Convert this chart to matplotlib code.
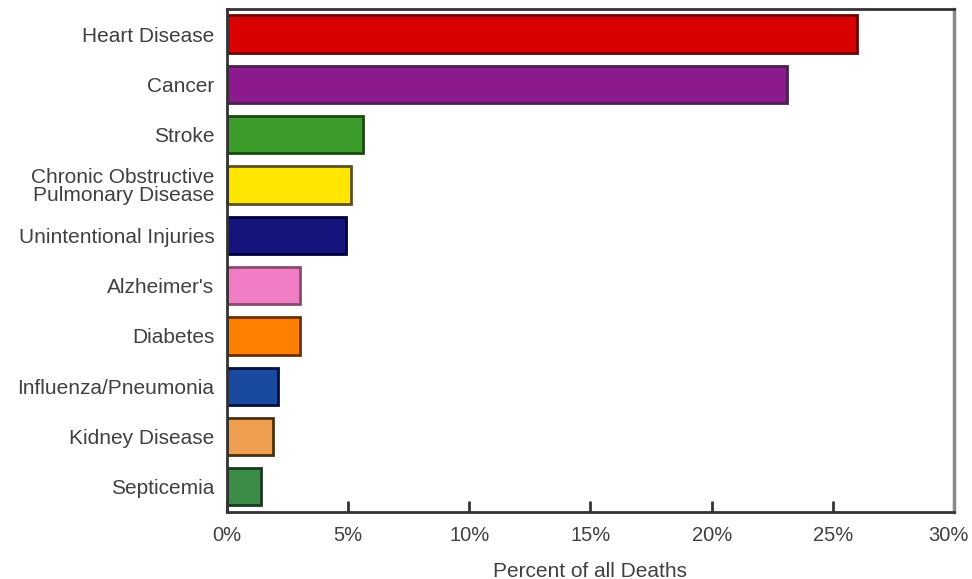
import matplotlib.pyplot as plt
import matplotlib.transforms as mtransforms

plt.rcParams['font.family'] = ['Liberation Sans', 'DejaVu Sans']

# causes of death, top to bottom
causes = ['Heart Disease', 'Cancer', 'Stroke',
          'Chronic Obstructive\nPulmonary Disease', 'Unintentional Injuries',
          "Alzheimer's", 'Diabetes', 'Influenza/Pneumonia', 'Kidney Disease',
          'Septicemia']
percent = [26.0, 23.1, 5.6, 5.1, 4.9, 3.0, 3.0, 2.1, 1.9, 1.4]
fills = ['#d80000', '#8c1a8e', '#3c9c2c', '#ffe600', '#14147c',
         '#f07cc4', '#ff8000', '#1a4aa0', '#eea050', '#3c8c48']
edges = ['#6e0000', '#4a2050', '#1a4a10', '#5a5020', '#000040',
         '#8a4a70', '#6a3000', '#001040', '#4a3010', '#1a3a20']
xticks = [0, 5, 10, 15, 20, 25, 30]

fig = plt.figure(figsize=(9.72, 5.79), dpi=100)
ax = fig.add_axes([0.2335, 0.1157, 0.748, 0.869])

ax.barh(range(len(causes)), percent, height=0.74, color=fills,
        edgecolor=edges, linewidth=2)

ax.set_ylim(len(causes) - 0.5, -0.5)
ax.set_xlim(0, 30)
ax.set_yticks(range(len(causes)))
ax.set_yticklabels(causes, fontsize=15, color='#404040', linespacing=0.95)
ax.set_xticks(xticks)
ax.set_xticklabels([f'{t}%' for t in xticks], fontsize=14.5, color='#404040')
ax.tick_params(axis='y', length=0, pad=9)
ax.tick_params(axis='x', direction='in', length=8, width=2, color='#333333', pad=10)
ax.set_xlabel('Percent of all Deaths', fontsize=15, color='#404040', labelpad=12)

# last tick label sits right at the figure edge; nudge it inside
last = ax.get_xticklabels()[-1]
last.set_transform(last.get_transform() +
                   mtransforms.ScaledTranslation(-4 / 72, 0, fig.dpi_scale_trans))

for side in ['left', 'top', 'bottom']:
    ax.spines[side].set_color('#333333')
    ax.spines[side].set_linewidth(2)
ax.spines['right'].set_color('#888888')
ax.spines['right'].set_linewidth(2.5)

fig.savefig('out.png', dpi=100)
